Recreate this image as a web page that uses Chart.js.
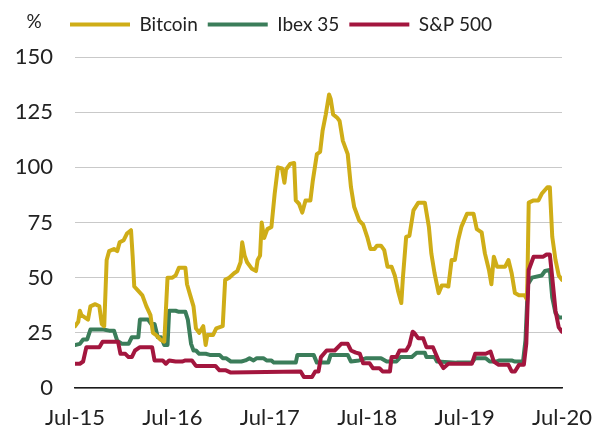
<!DOCTYPE html>
<html>
<head>
<meta charset="utf-8">
<script src="https://cdn.jsdelivr.net/npm/chart.js@4"></script>
<style>
html,body{margin:0;padding:0;background:#fff;}
#c{display:block;}
</style>
</head>
<body>
<canvas id="c" width="603" height="432"></canvas>
<script>
// Months since Jul-2015 (x) and annualised volatility (%)
const xTickLabels = ["Jul-15","Jul-16","Jul-17","Jul-18","Jul-19","Jul-20"];
const seriesNames = ["Bitcoin","Ibex 35","S&P 500"];

const btcMonths = [0,0.4,0.6,0.8,1.2,1.6,1.9,2.5,3.0,3.3,3.6,3.9,4.2,4.8,5.2,5.5,6.0,6.4,6.9,7.1,7.3,7.8,8.3,8.8,9.3,9.6,10.0,10.5,11.0,11.1,11.4,12.0,12.4,12.8,13.6,13.8,14.2,14.6,14.9,15.3,15.8,16.1,16.3,17.0,17.4,18.2,18.5,19.0,19.6,20.0,20.4,20.6,20.9,21.2,21.8,22.3,22.5,22.8,23.0,23.3,23.7,24.2,24.6,25.0,25.5,25.8,26.0,26.5,27.0,27.2,27.6,28.0,28.4,29.0,29.3,29.8,30.2,30.5,30.9,31.3,31.5,31.8,32.3,32.6,33.0,33.6,34.0,34.4,35.0,35.5,36.0,36.4,36.9,37.2,37.7,38.1,38.5,39.0,39.4,39.8,40.2,40.4,40.8,41.2,41.7,42.3,43.1,43.6,43.9,44.3,44.8,45.2,45.6,46.0,46.4,46.8,47.2,47.6,48.3,49.1,49.5,50.1,50.5,51.0,51.3,51.6,52.0,53.0,53.4,53.8,54.2,54.7,55.4,55.7,55.9,56.5,57.1,57.5,58.2,58.5,58.8,59.2,59.6,60.0];
const btcValues = [28,30,35,33,32,31,37,38,37,29,28,58,62,63,62,66,67,70,71.5,60,46,44,42,37,33,25,24,22,21,28,50,50,51,54.5,54.5,47,42,37,27,25,28,19.5,24,24,27,28,49,50,52,53,57,66,60,57,54,53,58,60,75,68,72,73,88,100,99.5,93,99,101.5,102,85,83.5,79.5,85,85,94,106,107,116.5,124,133,131,124,122.5,121,112,106,91,82,76,74,68.5,63,63,64.5,64.5,62.5,55,55,51,44,38.5,50,68.5,69,80.5,84,84,73,61,52,43,46.5,46.5,46,58,58,67,73,79,79,72,70.5,61,53.5,47,59.5,55,55,58,52,43,42,42,40,84,85,85,88,91,91,68.5,58,51,49];

const ibexMonths = [0,0.6,1.0,1.5,1.9,3.5,4.2,4.8,5.2,5.8,6.6,7.0,7.8,8.0,9.0,9.4,9.8,10.2,10.6,11.0,11.4,11.6,12.4,12.8,13.6,13.9,14.3,14.6,14.9,15.3,16.1,16.6,17.8,18.2,18.6,19.2,20.5,21.0,21.5,22.0,22.4,23.2,23.6,24.2,24.5,27.2,27.4,29.4,29.8,31.2,31.5,33.6,34.0,35.0,35.9,37.7,38.4,39.6,40.1,41.5,42.1,43.1,43.3,44.3,44.6,47.0,48.9,49.3,50.6,51.1,51.9,52.3,53.8,54.2,55.2,55.5,55.8,56.3,57.5,57.9,58.5,58.8,59.2,59.6,60.0];
const ibexValues = [19.5,20,22,22,26.5,26.5,26,26,21.5,20,20,23,23,31,31,29,29,23,23,19.5,19.5,35,35,34.5,34.5,31,20,17,17,15.5,15.5,15,15,13.5,13.5,12,12,12.5,13.5,12.5,13.5,13.5,12.5,12.5,11.5,11.5,15,15,11.5,11.5,15,15,12,12.5,13.5,13.5,12,12,14,14,16,16,14,14,12,11.5,11.5,13.5,13.5,12,12,12.5,12.5,12,12,21.7,47,50,51,53,53.5,41,34,32,32];

const spMonths = [0,0.6,1.0,1.4,3.0,3.4,5.3,5.6,6.2,6.6,7.0,7.4,8.0,9.5,9.8,10.8,11.2,11.6,12.4,13.2,13.6,14.4,14.9,16.1,17.3,17.8,18.6,19.2,27.8,28.2,29.2,29.6,30.0,30.3,31.0,32.0,32.8,33.6,34.0,34.6,35.1,35.5,36.3,36.7,37.5,37.9,38.8,39.0,39.6,40.0,40.8,41.2,41.6,41.8,42.3,42.9,43.3,44.1,44.8,45.4,46.0,48.9,49.3,50.6,51.2,51.6,52.2,53.4,53.8,54.2,54.7,55.3,55.6,55.9,56.5,57.7,58.1,58.5,58.8,59.2,59.6,60.0];
const spValues = [11,11,12,18.5,18.5,21,21,15.5,15.5,14,14,17,18.5,18.5,12.5,12.5,11,12.5,12,12,12.5,12.5,10,10,10,8,8,7,7.5,5,5,7.5,7.5,14,17,17,20,20,17,16,15.5,11.2,11.2,9,9,7.5,7.5,14,14,17,17,19.5,25.5,25,22.5,22.5,18.5,18.5,12.5,9,11,11,15.5,15.5,16.5,12,10.5,10.5,7.5,7.5,10.5,10.5,20,53.5,59.5,59.5,60.5,60.5,50,35,27.5,25.5];

const yTicks = [0,25,50,75,100,125,150];

function pts(xs, ys){ return xs.map((x,i)=>({x:x, y:ys[i]})); }

const colors = ["#CFAD17","#3B7D5A","#A3163E"];
const FONT = "Lato";
const LW = 4;

const percentPlugin = {
  id: 'percentLabel',
  afterLayout(chart){
    const lg = chart.legend;
    if (lg) { lg.left -= 28; lg.right -= 28; lg.top -= 13; lg.bottom -= 13; }
  },
  afterDraw(chart){
    const ctx = chart.ctx;
    ctx.save();
    ctx.font = "19px " + FONT;
    ctx.fillStyle = "#222";
    ctx.textAlign = "center";
    ctx.textBaseline = "middle";
    ctx.fillText("%", 34, 22);
    ctx.restore();
  }
};

function ds(i, xs, ys, order){
  return {
    label: seriesNames[i], data: pts(xs, ys),
    borderColor: colors[i], backgroundColor: colors[i],
    pointBorderColor: colors[i], pointBackgroundColor: colors[i], pointBorderWidth: LW,
    order: order
  };
}

new Chart(document.getElementById('c'), {
  type: 'line',
  data: {
    datasets: [
      ds(0, btcMonths, btcValues, 1),
      ds(1, ibexMonths, ibexValues, 2),
      ds(2, spMonths, spValues, 0)
    ]
  },
  options: {
    responsive: false,
    animation: false,
    devicePixelRatio: 1,
    elements: {
      line: {borderWidth: LW, tension: 0, borderJoinStyle: 'round', borderCapStyle: 'round'},
      point: {radius: 0, hoverRadius: 0}
    },
    layout: {padding: {left: 15, right: 0, top: 18, bottom: 0}},
    plugins: {
      legend: {
        display: true,
        position: 'top',
        align: 'center',
        labels: {
          usePointStyle: true,
          pointStyle: 'line',
          pointStyleWidth: 60,
          boxHeight: 19,
          color: '#222',
          font: {family: FONT, size: 19},
          padding: 10,
          sort: (a, b) => a.datasetIndex - b.datasetIndex
        }
      },
      tooltip: {enabled: false}
    },
    scales: {
      x: {
        type: 'linear',
        min: 0, max: 60,
        afterFit: (s) => { s.height = 44; s.paddingRight = 41; s.paddingLeft = 30; },
        grid: {display: false, drawTicks: false},
        border: {display: true, color: '#1a1a1a', width: 1.5},
        ticks: {
          stepSize: 12,
          autoSkip: false,
          maxRotation: 0,
          padding: 17,
          color: '#222',
          font: {family: FONT, size: 22},
          callback: (v) => xTickLabels[Math.round(v / 12)]
        }
      },
      y: {
        min: 0, max: 150,
        afterFit: (s) => { s.width = 60; },
        afterBuildTicks: (s) => { s.ticks = yTicks.map(v => ({value: v})); },
        grid: {color: '#c9c9c9', lineWidth: 1, drawTicks: false},
        border: {display: false},
        ticks: {
          padding: 22,
          color: '#222',
          font: {family: FONT, size: 22}
        }
      }
    }
  },
  plugins: [percentPlugin]
});
</script>
</body>
</html>
